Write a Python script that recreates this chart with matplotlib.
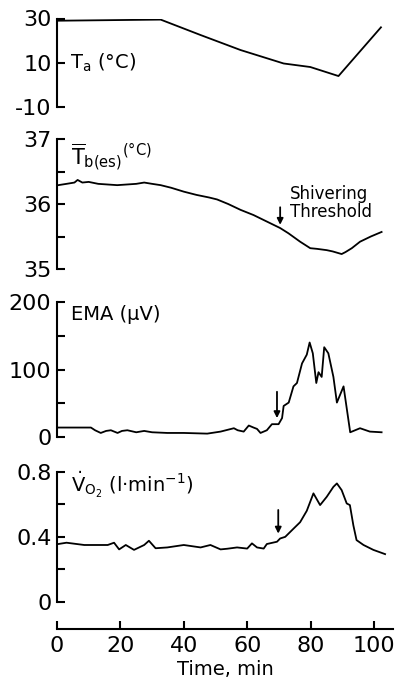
import matplotlib
matplotlib.use("Agg")
import matplotlib.pyplot as plt

# ---------------- data ----------------
ta_t = [0.4, 32.7, 45.3, 57.9, 71.5, 79.9, 88.8, 102.2]
ta_v = [29, 29.5, 22.5, 15.7, 9.6, 8.0, 3.9, 26]

tb_t = [0.4, 3, 5.5, 6.5, 8, 10, 13, 16, 19, 22, 25, 27.5, 30, 32.7, 36, 40, 44, 48,
        50.5, 54, 57.9, 62, 66.2, 70.4, 73, 76.7, 79.9, 82, 85.1, 87, 89.8, 91, 93,
        95.6, 99, 102.4]
tb_v = [36.29, 36.31, 36.33, 36.37, 36.33, 36.34, 36.31, 36.30, 36.29, 36.30, 36.31,
        36.33, 36.31, 36.29, 36.25, 36.19, 36.14, 36.10, 36.07, 36.00, 35.91, 35.83,
        35.73, 35.63, 35.55, 35.42, 35.32, 35.31, 35.29, 35.27, 35.23, 35.26, 35.32,
        35.42, 35.50, 35.57]

ema_t = [0.4, 5, 10.7, 12, 13.8, 15.5, 17.0, 19.1, 20.5, 22.2, 25, 27.5, 30, 34.8, 40,
         47.4, 51.6, 55.8, 57, 58.9, 60.5, 62, 63.1, 64.2, 66.2, 67.8, 69.9, 71.0, 71.5,
         73.1, 74.6, 75.7, 77.3, 78.8, 79.7, 80.7, 81.8, 82.5, 83.5, 84.3, 85.6, 87.2,
         88.3, 90.4, 92.5, 95.6, 98.7, 102.4]
ema_v = [14, 14, 14, 10, 6, 9, 10, 6, 9, 10, 7, 9, 7, 6, 6, 5, 8, 13, 10, 8, 17, 14, 12,
         6, 10, 19, 19, 28, 46, 51, 75, 80, 109, 122, 140, 124, 80, 96, 89, 133, 124, 89,
         51, 75, 7, 13, 8, 7]

vo_t = [0.4, 3, 8.6, 12, 16, 18.0, 19.6, 21.7, 24.3, 27.5, 29.0, 31.1, 34.8, 40.0, 45.3,
        48.4, 51.6, 53.7, 56.8, 60.0, 61.5, 63.1, 65.2, 66.2, 69.4, 70.4, 72.0, 74.6,
        76.7, 78.8, 80.9, 83.0, 85.1, 87.2, 88.3, 89.8, 91.4, 92.4, 93.5, 94.5, 96.7,
        99.8, 103.5]
vo_v = [0.356, 0.364, 0.35, 0.35, 0.35, 0.364, 0.323, 0.35, 0.32, 0.35, 0.376, 0.33,
        0.335, 0.35, 0.335, 0.35, 0.323, 0.327, 0.335, 0.328, 0.36, 0.335, 0.328, 0.356,
        0.37, 0.39, 0.40, 0.45, 0.49, 0.56, 0.667, 0.595, 0.646, 0.707, 0.728, 0.687,
        0.605, 0.595, 0.47, 0.38, 0.35, 0.32, 0.294]

x_ticks = [0, 20, 40, 60, 80, 100]
ta_ticks, ta_labels = [-10, 10, 30], ["-10", "10", "30"]
tb_ticks, tb_labels = [35, 35.5, 36, 36.5, 37], ["35", "", "36", "", "37"]
ema_ticks, ema_labels = [0, 50, 100, 150, 200], ["0", "", "100", "", "200"]
vo_ticks, vo_labels = [0, 0.2, 0.4, 0.6, 0.8], ["0", "", "0.4", "", "0.8"]

# arrows (time, from-value, to-value)
tb_arrow = (70.4, 35.95, 35.68)
ema_arrow = (69.4, 67, 28)
vo_arrow = (69.8, 0.565, 0.42)

# ---------------- style ----------------
plt.rcParams["font.family"] = ["DejaVu Sans"]

W, H = 403, 686
fig = plt.figure(figsize=(W / 100, H / 100), dpi=100)

left = 57 / W
width = (393 - 57) / W
XMAX = 106
lw_line = 1.3
lw_sp = 1.5
tick_fs = 16


def panel(top_px, bot_px, ylim, ticks, labels):
    ax = fig.add_axes([left, 1 - bot_px / H, width, (bot_px - top_px) / H])
    ax.set_xlim(0, XMAX)
    ax.set_ylim(*ylim)
    for s in ["top", "right", "bottom"]:
        ax.spines[s].set_visible(False)
    ax.spines["left"].set_linewidth(lw_sp)
    ax.set_xticks([])
    ax.set_yticks(ticks)
    ax.set_yticklabels(labels)
    ax.tick_params(axis="y", direction="in", length=6, width=lw_sp,
                   labelsize=tick_fs, pad=4)
    ax.patch.set_visible(False)
    return ax


def arrow(ax, a):
    ax.annotate("", xy=(a[0], a[2]), xytext=(a[0], a[1]),
                arrowprops=dict(arrowstyle="-|>", lw=1.3, color="black",
                                mutation_scale=9, shrinkA=0, shrinkB=0))


ax1 = panel(18.5, 106.7, (-10, 30), ta_ticks, ta_labels)
ax1.plot(ta_t, ta_v, color="black", lw=lw_line)
ax1.text(4.0, 10, r"T$_\mathrm{a}$ (°C)", fontsize=14, va="center", ha="left")

ax2 = panel(139, 269, (35, 37), tb_ticks, tb_labels)
ax2.plot(tb_t, tb_v, color="black", lw=lw_line)
ax2.text(4.5, 36.97, r"$\overline{\mathrm{T}}_{\mathrm{b(es)}}{}^{(°\mathrm{C})}$",
         fontsize=15, va="top", ha="left")
arrow(ax2, tb_arrow)
ax2.text(73.5, 36.02, "Shivering\nThreshold", fontsize=12, va="center", ha="left",
         linespacing=1.0)

ax3 = panel(302, 437, (0, 200), ema_ticks, ema_labels)
ax3.plot(ema_t, ema_v, color="black", lw=lw_line)
ax3.text(4.5, 196, "EMA (µV)", fontsize=14, va="top", ha="left")
arrow(ax3, ema_arrow)

ax4 = panel(471.7, 602, (0, 0.8), vo_ticks, vo_labels)
ax4.plot(vo_t, vo_v, color="black", lw=lw_line)
ax4.text(4.5, 0.81, r"$\dot{\mathrm{V}}_{\mathrm{O_2}}$ (l·min$^{-1}$)",
         fontsize=14, va="top", ha="left")
arrow(ax4, vo_arrow)

# time axis
axt = fig.add_axes([left, 1 - 629 / H, width, 0.001])
axt.set_xlim(0, XMAX)
axt.set_ylim(0, 1)
for s in ["top", "right", "left"]:
    axt.spines[s].set_visible(False)
axt.spines["bottom"].set_linewidth(lw_sp)
axt.set_yticks([])
axt.set_xticks(x_ticks)
axt.set_xticklabels([str(v) for v in x_ticks])
axt.tick_params(axis="x", direction="in", length=6, width=lw_sp,
                labelsize=tick_fs, pad=5)
axt.patch.set_visible(False)
axt.set_xlabel("Time, min", fontsize=14, labelpad=3)

fig.savefig("out.png", dpi=100)
